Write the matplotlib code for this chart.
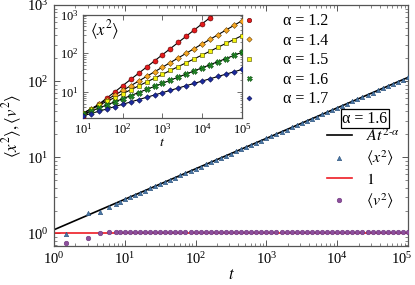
import numpy as np
import matplotlib
matplotlib.use('Agg')
import matplotlib.pyplot as plt
import matplotlib.transforms as mtransforms
from matplotlib.ticker import LogLocator

plt.rcParams['font.family'] = 'serif'
plt.rcParams['font.serif'] = ['Liberation Serif', 'DejaVu Serif']
plt.rcParams['mathtext.fontset'] = 'stix'

# ---------------- data: main panel (alpha = 1.6) ----------------
t_main = [1.5, 3, 4.5, 6, 7.5, 8.48,
          10, 11.8, 13.9, 16.4, 19.3, 22.8, 26.8, 31.6, 37.3, 43.9, 51.8, 61.1, 72.0, 84.8,
          100, 118, 139, 164, 193, 228, 268, 316, 373, 439, 518, 611, 720, 848,
          1000, 1179, 1389, 1638, 1931, 2276, 2683, 3162, 3728, 4394, 5179, 6105, 7197, 8483,
          10000, 11788, 13895, 16379, 19307, 22758, 26827, 31623, 37276, 43940, 51795, 61054,
          71969, 84834, 100000]
x2_main = [0.98, 1.86, 1.90, 2.22, 2.46, 2.62,
           2.81, 3.00, 3.21, 3.43, 3.66, 3.91, 4.17, 4.46, 4.76, 5.09, 5.43, 5.80, 6.20, 6.62,
           7.07, 7.55, 8.06, 8.61, 9.19, 9.82, 10.5, 11.2, 12.0, 12.8, 13.6, 14.6, 15.6, 16.6,
           17.8, 19.0, 20.2, 21.6, 23.1, 24.7, 26.4, 28.1, 30.1, 32.1, 34.3, 36.6, 39.1, 41.8,
           44.6, 47.6, 50.9, 54.3, 58.0, 62.0, 66.2, 70.7, 75.5, 80.6, 86.1, 91.9,
           98.2, 105, 112]
v2_main = [0.74, 0.88, 1.00, 1.05, 1.06, 1.06,
           1.06, 1.06, 1.06, 1.06, 1.06, 1.06, 1.06, 1.06, 1.06, 1.06, 1.06, 1.06, 1.06, 1.06,
           1.06, 1.06, 1.06, 1.06, 1.06, 1.06, 1.06, 1.06, 1.06, 1.06, 1.06, 1.06, 1.06, 1.06,
           1.06, 1.06, 1.06, 1.06, 1.06, 1.06, 1.06, 1.06, 1.06, 1.06, 1.06, 1.06, 1.06, 1.06,
           1.06, 1.06, 1.06, 1.06, 1.06, 1.06, 1.06, 1.06, 1.06, 1.06, 1.06, 1.06,
           1.06, 1.06, 1.06]
fit_t = [1, 100000]
fit_A = 1.12
fit_exponent = 0.4          # 2 - alpha
unit_level = [1, 1]

# ---------------- data: inset <x^2> for several alpha ----------------
t_inset = [10, 15.8, 25.1, 39.8, 63.1, 100, 158, 251, 398, 631, 1000, 1585, 2512, 3981,
           6310, 10000, 15849, 25119, 39811, 63096, 100000]
x2_a12 = [2.3, 3.32, 4.80, 6.95, 10.0, 14.5, 21.0, 30.3, 43.8, 63.4, 91.6, 132, 191, 277,
          400, 578, 835, 1207, 1745, 2522, 3645]
x2_a14 = [2.75, 3.63, 4.78, 6.30, 8.30, 10.9, 14.4, 19.0, 25.1, 33.1, 43.6, 57.5, 75.8, 99.9,
          132, 174, 229, 302, 398, 524, 691]
x2_a15 = [2.85, 3.59, 4.52, 5.69, 7.16, 9.01, 11.3, 14.3, 18.0, 22.6, 28.5, 35.9, 45.2, 56.9,
          71.6, 90.1, 113, 143, 180, 226, 285]
x2_a16 = [2.65, 3.19, 3.83, 4.60, 5.54, 6.66, 8.00, 9.62, 11.6, 13.9, 16.7, 20.1, 24.2, 29.1,
          35.0, 42.0, 50.5, 60.7, 73.0, 87.8, 105.5]
x2_a17 = [2.4, 2.76, 3.16, 3.63, 4.17, 4.79, 5.50, 6.31, 7.25, 8.32, 9.55, 11.0, 12.6, 14.5,
          16.6, 19.1, 21.9, 25.1, 28.8, 33.1, 38.0]
inset_labels = ['α = 1.2', 'α = 1.4', 'α = 1.5', 'α = 1.6', 'α = 1.7']

# ---------------- figure ----------------
fig = plt.figure(figsize=(4.15, 2.85), dpi=100)
ax = fig.add_axes([0.1301, 0.1368, 0.853, 0.8456])
spine_col = '#555555'

fit_y = [fit_A * t ** fit_exponent for t in fit_t]
l_fit, = ax.plot(fit_t, fit_y, color='black', lw=1.2, zorder=2)
l_x2, = ax.plot(t_main, x2_main, ls='none', marker='^', ms=3.2, mfc='#4a78a8',
                mec='#2a4f78', mew=0.4, zorder=3)
l_one, = ax.plot(fit_t, unit_level, color='#ee1c25', lw=1.2, zorder=2)
l_v2, = ax.plot(t_main, v2_main, ls='none', marker='o', ms=3.3, mfc='#8c4f9c',
                mec='#6a3079', mew=0.4, zorder=3)

ax.set_xscale('log')
ax.set_yscale('log')
ax.set_xlim(1, 1e5)
ax.set_ylim(0.685, 1000)
ax.set_xlabel(r'$t$', fontsize=12, labelpad=0)
ax.set_ylabel(r'$\langle x^2\rangle, \langle v^2\rangle$', fontsize=12, labelpad=2)
ax.tick_params(which='both', direction='in', top=True, right=True, color=spine_col,
               labelsize=10.5, pad=4)
ax.tick_params(which='major', length=4, width=0.7)
ax.tick_params(which='minor', length=2, width=0.5)
for s in ax.spines.values():
    s.set_color(spine_col)
    s.set_linewidth(0.9)

# boxed alpha label
ax.text(0.878, 0.528, 'α = 1.6', transform=ax.transAxes, fontsize=11.5, ha='center',
        va='center', bbox=dict(boxstyle='square,pad=0.1', fc='white', ec='black', lw=0.9),
        zorder=5)
leg = ax.legend([l_fit, l_x2, l_one, l_v2],
                [r'$At^{2\text{-}\alpha}$', r'$\langle x^2\rangle$', r'$1$', r'$\langle v^2\rangle$'],
                fontsize=11.5, frameon=False,
                loc='upper left', bbox_to_anchor=(0.77, 0.488), handlelength=1.6,
                handletextpad=0.9, labelspacing=0.22, borderaxespad=0, borderpad=0.0)

# ---------------- inset ----------------
axi = fig.add_axes([0.2, 0.585, 0.383, 0.364])
series = [
    (x2_a12, 'o', '#e41a1c', '#5a0000', 3.6),
    (x2_a14, 'D', '#f5a623', '#6b4300', 3.0),
    (x2_a15, 's', '#f4f30c', '#4d4d00', 3.0),
    (x2_a16, 'X', '#1f8c24', '#0b4a0e', 4.0),
    (x2_a17, 'D', '#1b2a9e', '#0a1050', 2.8),
]
handles = []
for ys, mk, fc, ec, ms in series:
    axi.plot(t_inset, ys, color='black', lw=0.8, zorder=2)
    h, = axi.plot(t_inset, ys, ls='none', marker=mk, ms=ms, mfc=fc, mec=ec, mew=0.4, zorder=3)
    handles.append(h)
axi.set_xscale('log')
axi.set_yscale('log')
axi.set_xlim(10, 1e5)
axi.set_ylim(2.08, 1000)
axi.xaxis.set_major_locator(LogLocator(base=10, numticks=10))
axi.set_xlabel(r'$t$', fontsize=10, labelpad=-1)
axi.tick_params(which='both', direction='in', top=True, right=True, color=spine_col,
                labelsize=9, pad=3)
axi.tick_params(which='major', length=3.5, width=0.6)
axi.tick_params(which='minor', length=1.8, width=0.5)
for s in axi.spines.values():
    s.set_color(spine_col)
    s.set_linewidth(0.9)
axi.text(0.045, 0.85, r'$\langle x^2\rangle$', transform=axi.transAxes, fontsize=12,
         va='center', ha='left')

ax.legend(handles, inset_labels, fontsize=11.5, frameon=False, loc='upper left',
          bbox_to_anchor=(0.52, 0.972), handlelength=1.2, handletextpad=1.5,
          labelspacing=0.22, borderaxespad=0, borderpad=0.1, markerscale=0.9)
ax.add_artist(leg)

# keep the last main x tick label inside the canvas
fig.canvas.draw()
xlabels = ax.get_xticklabels()
shift = mtransforms.ScaledTranslation(-6 / 100, 0, fig.dpi_scale_trans)
for lab in xlabels:
    if lab.get_text() and '5' in lab.get_text() and lab.get_position()[0] >= 1e5 * 0.99:
        lab.set_transform(lab.get_transform() + shift)

fig.savefig('out.png', dpi=100)
